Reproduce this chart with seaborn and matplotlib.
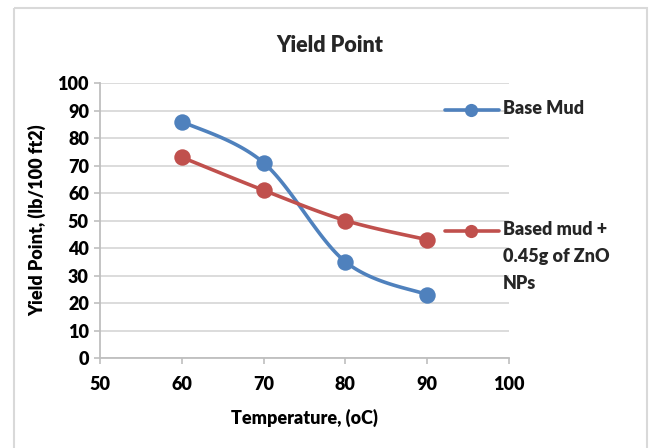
import numpy as np
import matplotlib
matplotlib.use("Agg")
import matplotlib.pyplot as plt
import seaborn as sns
import pandas as pd
from matplotlib.lines import Line2D
from matplotlib.patches import Rectangle

temperature = [60, 70, 80, 90]
base_mud = [86, 71, 35, 23]
zno_mud = [73, 61, 50, 43]
series_names = ["Base Mud", "Based mud +\n0.45g of ZnO\nNPs"]
x_ticks = [50, 60, 70, 80, 90, 100]
y_ticks = [0, 10, 20, 30, 40, 50, 60, 70, 80, 90, 100]
colors = ["#4F81BD", "#C0504D"]

sns.set_theme(style="white")
plt.rcParams["font.family"] = ["Lato", "DejaVu Sans"]
plt.rcParams["font.weight"] = "heavy"
FW = "heavy"

W, H = 654, 448
fig = plt.figure(figsize=(W / 100, H / 100), dpi=100)
ax = fig.add_axes([100 / W, 1 - 358 / H, 409 / W, 275 / H])
ax.set_xlim(50, 100)
ax.set_ylim(0, 100)

def smooth(xs, ys, sx=409 / 50, sy=275 / 100, n=40):
    # Excel-like smoothed line (Catmull-Rom Bezier) computed in screen-like space
    P = np.column_stack([np.asarray(xs, float) * sx, np.asarray(ys, float) * sy])
    out = []
    for i in range(len(P) - 1):
        p0 = P[i - 1] if i > 0 else P[i]
        p1, p2 = P[i], P[i + 1]
        p3 = P[i + 2] if i + 2 < len(P) else P[i + 1]
        c1 = p1 + (p2 - p0) / 6
        c2 = p2 - (p3 - p1) / 6
        t = np.linspace(0, 1, n)[:, None]
        seg = ((1 - t) ** 3) * p1 + 3 * ((1 - t) ** 2) * t * c1 + 3 * (1 - t) * t ** 2 * c2 + t ** 3 * p2
        out.append(seg if i == 0 else seg[1:])
    c = np.vstack(out)
    return c[:, 0] / sx, c[:, 1] / sy

for ys, col in zip([base_mud, zno_mud], colors):
    cx, cy = smooth(temperature, ys)
    sns.lineplot(x=cx, y=cy, ax=ax, color=col, linewidth=2.6, sort=False, zorder=3)
    sns.scatterplot(x=temperature, y=ys, ax=ax, color=col, s=140, edgecolor=col, linewidth=0, zorder=4)

ax.set_xticks(x_ticks)
ax.set_yticks(y_ticks)
ax.set_xticklabels([str(v) for v in x_ticks], fontsize=13, fontweight=FW)
ax.set_yticklabels([str(v) for v in y_ticks], fontsize=13, fontweight=FW)
ax.yaxis.grid(True, color="#D9D9D9", linewidth=1.3)
ax.xaxis.grid(False)
for s in ["top", "right"]:
    ax.spines[s].set_visible(False)
for s in ["left", "bottom"]:
    ax.spines[s].set_color("#BFBFBF")
    ax.spines[s].set_linewidth(1.3)
ax.tick_params(axis="both", direction="out", length=4, width=1.2, color="#BFBFBF",
               labelcolor="black", bottom=True, left=True)
ax.tick_params(axis="x", pad=9)
ax.tick_params(axis="y", pad=4)
ax.set_xlabel("Temperature, (oC)", fontsize=13, fontweight=FW, labelpad=11, color="black")
ax.set_ylabel("Yield Point, (lb/100 ft2)", fontsize=13, fontweight=FW, labelpad=8, color="black")

fig.text(330 / W, 1 - 45 / H, "Yield Point", ha="center", va="center", fontsize=15.5, fontweight=FW)

# legend
leg_y = [110, 231]
for yy, col, name in zip(leg_y, colors, series_names):
    fy = 1 - yy / H
    fig.add_artist(Line2D([445 / W, 499 / W], [fy, fy], color=col, linewidth=2.6,
                          transform=fig.transFigure))
    fig.add_artist(Line2D([471 / W], [fy], color=col, marker="o", markersize=9.5,
                          markeredgewidth=0, transform=fig.transFigure))
    fig.text(503 / W, fy + 10 / H, name, ha="left", va="top", fontsize=13,
             fontweight=FW, linespacing=1.7)

fig.add_artist(Rectangle((13.5 / W, 1 - 8 / H), (647 - 13.5) / W, -460 / H,
                         transform=fig.transFigure, fill=False, edgecolor="#D9D9D9",
                         linewidth=1.5, clip_on=False))

fig.savefig("out.png", dpi=100)
